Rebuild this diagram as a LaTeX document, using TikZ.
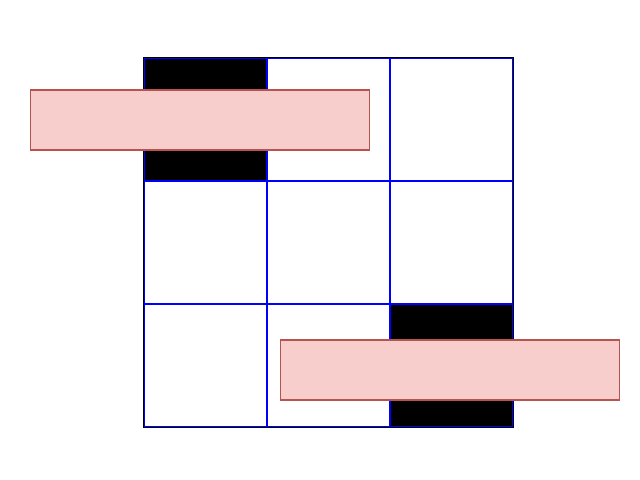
\documentclass[tikz,border=0pt]{standalone}
\usetikzlibrary{positioning}
\definecolor{pinkfill}{HTML}{F8CECC}
\definecolor{pinkdraw}{HTML}{B85450}

\begin{document}
\begin{tikzpicture}[
    x=0.02cm, y=-0.02cm,
    cell/.style={rectangle, draw=blue, line width=0.8pt, minimum width=2.46cm, minimum height=2.46cm, inner sep=0pt, outer sep=0pt},
    blackcell/.style={cell, fill=black},
    band/.style={rectangle, draw=pinkdraw, fill=pinkfill, line width=0.6pt, minimum width=6.8cm, minimum height=1.2cm, inner sep=0pt}
]
\useasboundingbox (0,0) rectangle (640,480);

% Grid
\node[blackcell] (c11) at (205.5,119.5) {};
\node[cell, right=0pt of c11] (c12) {};
\node[cell, right=0pt of c12] (c13) {};
\node[cell, below=0pt of c11] (c21) {};
\node[cell, right=0pt of c21] (c22) {};
\node[cell, right=0pt of c22] (c23) {};
\node[cell, below=0pt of c21] (c31) {};
\node[cell, right=0pt of c31] (c32) {};
\node[blackcell, right=0pt of c32] (c33) {};
\draw[black, line width=0.6pt] ([xshift=-0.5pt,yshift=0.5pt]c11.north west) rectangle ([xshift=0.5pt,yshift=-0.5pt]c33.south east);

% Overlays
\node[band] (b1) at (200,120) {};
\node[band] (b2) at (450,370) {};
\end{tikzpicture}
\end{document}
